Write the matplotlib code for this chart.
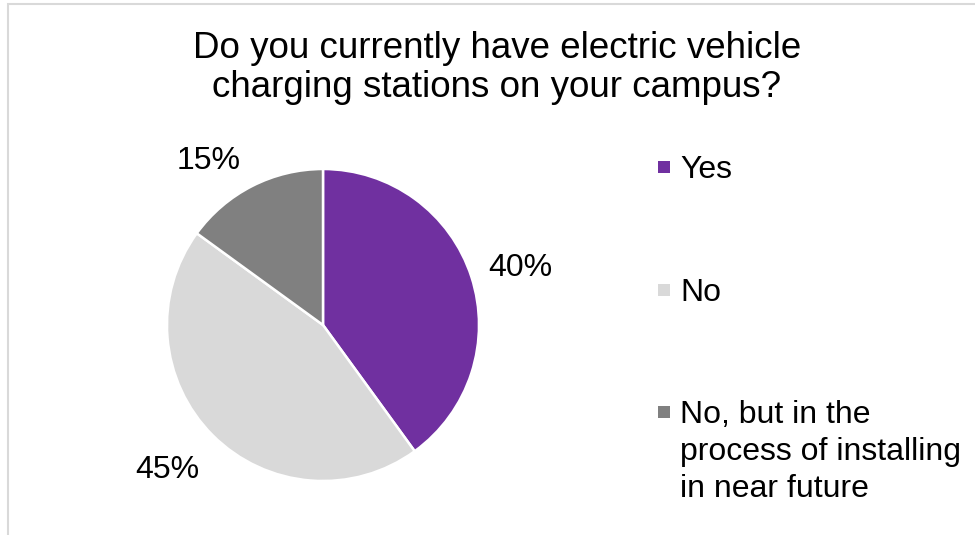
import numpy as np
import matplotlib.pyplot as plt
from matplotlib.patches import Rectangle

plt.rcParams['font.family'] = ['Liberation Sans', 'DejaVu Sans']

title = "Do you currently have electric vehicle\ncharging stations on your campus?"
labels = ["Yes", "No", "No, but in the\nprocess of installing\nin near future"]
values = [40, 45, 15]
colors = ["#7030A0", "#D9D9D9", "#808080"]

W, H = 975, 535
fig = plt.figure(figsize=(W / 100, H / 100), dpi=100)

# outer chart border (only left/top edges are visible in the crop)
fig.patches.append(Rectangle((7.5 / W, -0.5), 2, 1.5 - 3.5 / H, transform=fig.transFigure,
                             fill=False, edgecolor="#D9D9D9", linewidth=1.5))

fig.text(497 / W, 1 - 68 / H, title, ha="center", va="center", fontsize=26.5,
         linespacing=1.17, color="black")

R = 156
cx, cy = 323, 325
ax = fig.add_axes([(cx - 160) / W, (H - cy - 160) / H, 320 / W, 320 / H])
wedges, _, pct = ax.pie(values, colors=colors, startangle=90, counterclock=False,
                        autopct="%1.0f%%", pctdistance=1.31, radius=1,
                        wedgeprops=dict(edgecolor="white", linewidth=1.8),
                        textprops=dict(fontsize=23, color="black"))
# nudge the data labels the way the source chart placed them
lab_dist = [1.32, 1.35, 1.30]
lab_rot = [-1, -2.5, 7.5]
for w, t, d, da in zip(wedges, pct, lab_dist, lab_rot):
    a = np.deg2rad((w.theta1 + w.theta2) / 2 + da)
    t.set_position((d * np.cos(a), d * np.sin(a) - 0.02))
    t.set_ha("center")
    t.set_va("center")
ax.set_xlim(-160 / R, 160 / R)
ax.set_ylim(-160 / R, 160 / R)
ax.set_aspect("equal")
ax.axis("off")

# legend drawn by hand so the marker lines up with the first line of text
leg_y = [167, 290, 412]
for i, (lab, col) in enumerate(zip(labels, colors)):
    y = leg_y[i]
    fig.patches.append(Rectangle((658 / W, 1 - (y + 6) / H), 12 / W, 12 / H,
                                 transform=fig.transFigure, facecolor=col, edgecolor="none"))
    fig.text(680 / W, 1 - (y - 12) / H, lab, ha="left", va="top", fontsize=23,
             linespacing=1.31, color="black")

fig.savefig("out.png", dpi=100, facecolor="white")
